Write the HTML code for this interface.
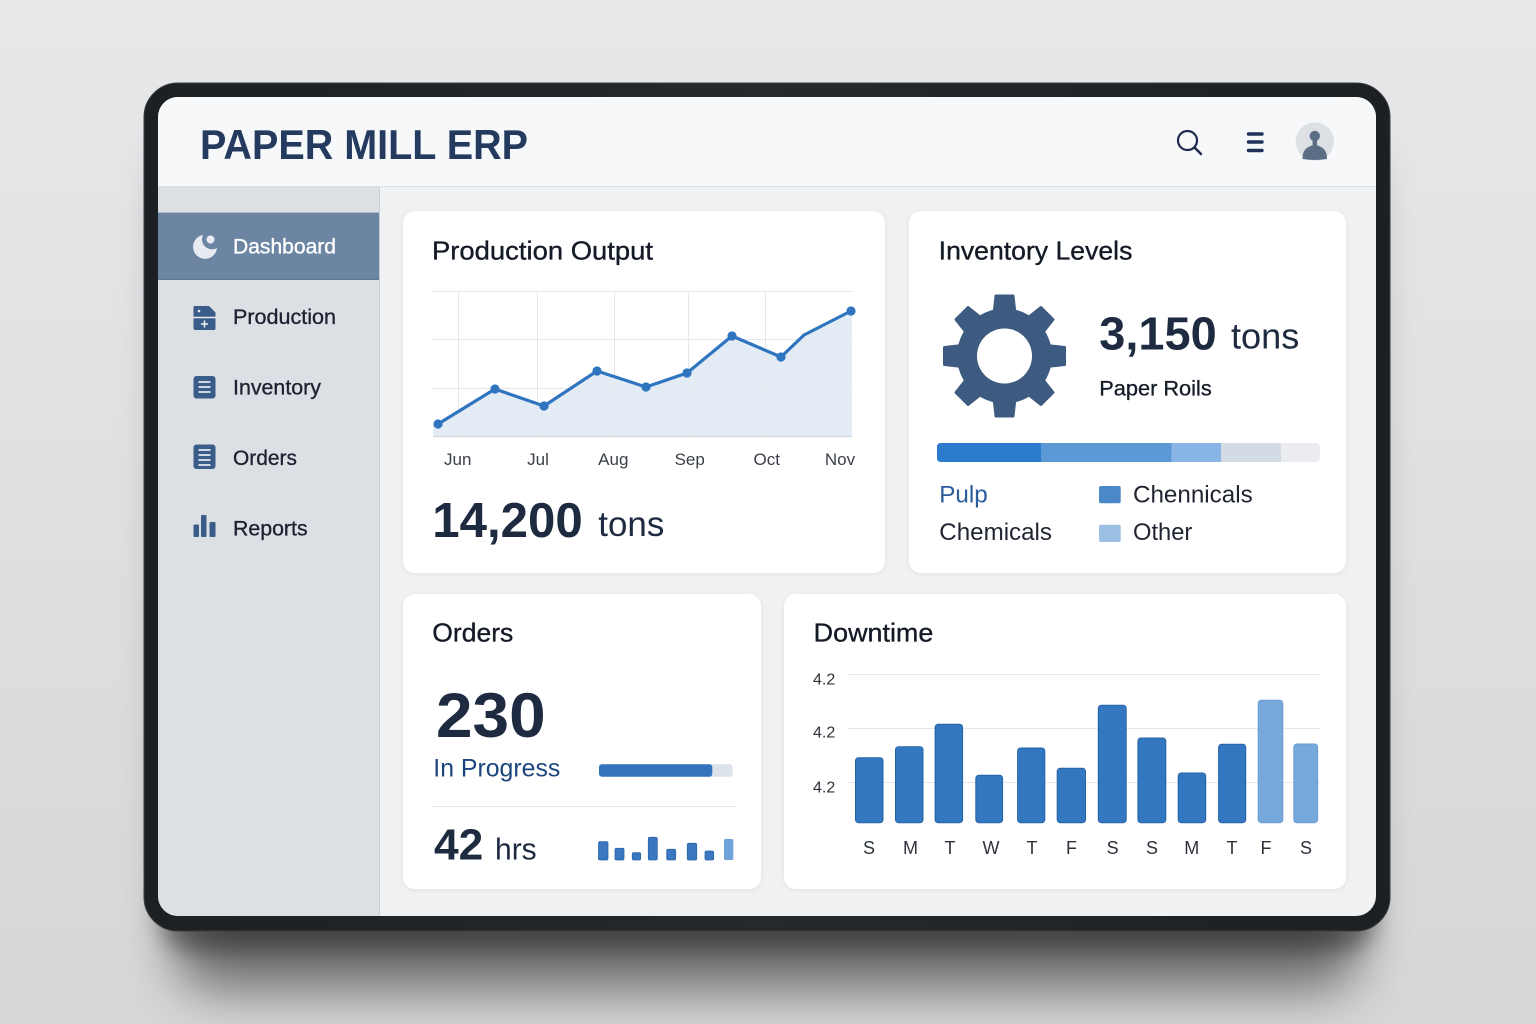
<!DOCTYPE html>
<html>
<head>
<meta charset="utf-8">
<style>
  html,body{margin:0;padding:0;width:1536px;height:1024px;overflow:hidden;background:#e3e4e6;}
  svg{display:block;}
  text{font-family:"Liberation Sans", Arial, sans-serif;}
</style>
</head>
<body>
<svg width="1536" height="1024" viewBox="0 0 1536 1024" xmlns="http://www.w3.org/2000/svg">
  <defs>
    <clipPath id="scr"><rect x="158" y="97" width="1218" height="819" rx="20"/></clipPath>
    <filter id="sh" x="-20%" y="-20%" width="140%" height="160%"><feGaussianBlur stdDeviation="26"/></filter>
    <filter id="sh2" x="-20%" y="-20%" width="140%" height="160%"><feGaussianBlur stdDeviation="10"/></filter>
    <filter id="cs" x="-5%" y="-5%" width="110%" height="115%"><feDropShadow dx="0" dy="1" stdDeviation="2" flood-color="#000" flood-opacity="0.07"/></filter>
    <linearGradient id="bg" x1="0" y1="0" x2="0" y2="1">
      <stop offset="0" stop-color="#e7e8ea"/>
      <stop offset="1" stop-color="#d7d7d7"/>
    </linearGradient>
    <linearGradient id="frm" x1="0" y1="0" x2="1" y2="0">
      <stop offset="0" stop-color="#1d2022"/>
      <stop offset="0.5" stop-color="#25292b"/>
      <stop offset="1" stop-color="#1d2022"/>
    </linearGradient>
  </defs>

  <!-- background -->
  <rect width="1536" height="1024" fill="url(#bg)"/>
  <!-- device shadow -->
  <rect x="175" y="150" width="1185" height="840" rx="40" fill="#000" opacity="0.5" filter="url(#sh)"/>
  <rect x="160" y="880" width="1215" height="70" rx="30" fill="#000" opacity="0.35" filter="url(#sh2)"/>

  <!-- device frame -->
  <rect x="144" y="83" width="1246" height="848" rx="34" fill="url(#frm)" stroke="#3a3e41" stroke-width="1"/>

  <g clip-path="url(#scr)">
    <rect x="158" y="97" width="1218" height="819" fill="#eff1f3"/>
    <rect x="158" y="97" width="1218" height="89" fill="#f7f8fa"/>
    <line x1="158" y1="186.5" x2="1376" y2="186.5" stroke="#dcdfe3" stroke-width="1"/>
    <rect x="158" y="187" width="221" height="729" fill="#dce0e4"/>
    <line x1="379.5" y1="187" x2="379.5" y2="916" stroke="#c9ced4" stroke-width="1"/>
    <rect x="158" y="212" width="221" height="68" fill="#6b85a2"/>
    <line x1="158" y1="212.5" x2="379" y2="212.5" stroke="#a9b8c9" stroke-width="1"/>
    <line x1="158" y1="279.5" x2="379" y2="279.5" stroke="#5d7692" stroke-width="1"/>
  </g>

  <!-- header title -->
  <text x="200" y="159" font-size="42" font-weight="bold" fill="#243b5f" textLength="328" lengthAdjust="spacingAndGlyphs">PAPER MILL ERP</text>

  <!-- header icons -->
  <circle cx="1187.5" cy="140.5" r="9.5" fill="none" stroke="#1d2a4a" stroke-width="2.2"/>
  <line x1="1194.5" y1="147.5" x2="1201" y2="154" stroke="#1d2a4a" stroke-width="2.4" stroke-linecap="round"/>
  <g stroke="#1f3257" stroke-width="3.4" stroke-linecap="round">
    <line x1="1248.5" y1="134" x2="1262" y2="134"/>
    <line x1="1248.5" y1="142" x2="1262" y2="142"/>
    <line x1="1248.5" y1="150.5" x2="1262" y2="150.5"/>
  </g>
  <circle cx="1314.8" cy="141.5" r="19.2" fill="#dde1e6"/>
  <circle cx="1314.8" cy="136" r="5.2" fill="#5b6e86"/>
  <rect x="1312.5" y="139" width="4.6" height="7" fill="#5b6e86"/>
  <path d="M1302.5 159 Q1302 147 1314.8 145 Q1327.5 147 1327 159 Q1314.8 161 1302.5 159 Z" fill="#5b6e86"/>

  <!-- dashboard icon -->
  <path d="M203 235 A12 12 0 1 0 217 248 A10 10 0 0 1 203 235 Z" fill="#e8ecf2"/>
  <circle cx="210.5" cy="239.5" r="4" fill="#e8ecf2"/>
  <text x="233" y="253.5" font-size="21" fill="#ffffff" stroke="#ffffff" stroke-width="0.35" textLength="103" lengthAdjust="spacingAndGlyphs">Dashboard</text>

  <!-- production icon -->
  <path d="M194.5 306 L209 306 L215.5 312.5 L215.5 328.5 Q215.5 330 214 330 L195.5 330 Q193.5 330 193.5 328 L193.5 307.5 Q193.5 306 194.5 306 Z" fill="#3a5c88"/>
  <line x1="193.5" y1="317.5" x2="215.5" y2="317.5" stroke="#e9edf2" stroke-width="1.4"/>
  <circle cx="199" cy="311" r="1.3" fill="#e9edf2"/>
  <line x1="204.5" y1="320.5" x2="204.5" y2="327.5" stroke="#e9edf2" stroke-width="1.6"/>
  <line x1="201" y1="324" x2="208" y2="324" stroke="#e9edf2" stroke-width="1.6"/>
  <text x="233" y="324" font-size="21" fill="#1b2130" stroke="#1b2130" stroke-width="0.3" textLength="103" lengthAdjust="spacingAndGlyphs">Production</text>

  <!-- inventory icon -->
  <rect x="193.5" y="376" width="22" height="22.5" rx="3" fill="#3a5c88"/>
  <g stroke="#e9edf2" stroke-width="1.7">
    <line x1="198.5" y1="382" x2="210.5" y2="382"/>
    <line x1="198.5" y1="387" x2="210.5" y2="387"/>
    <line x1="198.5" y1="392" x2="210.5" y2="392"/>
  </g>
  <text x="233" y="394.5" font-size="21" fill="#1b2130" stroke="#1b2130" stroke-width="0.3" textLength="88" lengthAdjust="spacingAndGlyphs">Inventory</text>

  <!-- orders icon -->
  <rect x="193.5" y="444.5" width="22" height="24.5" rx="3" fill="#3a5c88"/>
  <g stroke="#e9edf2" stroke-width="1.7">
    <line x1="198.5" y1="450" x2="210.5" y2="450"/>
    <line x1="198.5" y1="455" x2="210.5" y2="455"/>
    <line x1="198.5" y1="460" x2="210.5" y2="460"/>
    <line x1="198.5" y1="465" x2="210.5" y2="465"/>
  </g>
  <text x="233" y="465" font-size="21" fill="#1b2130" stroke="#1b2130" stroke-width="0.3" textLength="64" lengthAdjust="spacingAndGlyphs">Orders</text>

  <!-- reports icon -->
  <rect x="193.5" y="524.5" width="5.5" height="12.5" rx="1" fill="#3a5c88"/>
  <rect x="201" y="515" width="5.5" height="22" rx="1" fill="#3a5c88"/>
  <rect x="209.5" y="522" width="6" height="15" rx="1" fill="#3a5c88"/>
  <text x="233" y="535.5" font-size="21" fill="#1b2130" stroke="#1b2130" stroke-width="0.3" textLength="74.6" lengthAdjust="spacingAndGlyphs">Reports</text>

  <!-- cards -->
  <g filter="url(#cs)">
    <rect x="403" y="211" width="482" height="362" rx="12" fill="#ffffff"/>
    <rect x="909" y="211" width="437" height="362" rx="12" fill="#ffffff"/>
    <rect x="403" y="594" width="358" height="295" rx="12" fill="#ffffff"/>
    <rect x="784" y="594" width="562" height="295" rx="12" fill="#ffffff"/>
  </g>

  <!-- Production Output -->
  <text x="432" y="259.3" font-size="26" fill="#141a26" stroke="#141a26" stroke-width="0.35" textLength="221" lengthAdjust="spacingAndGlyphs">Production Output</text>
  <polygon points="433,424 438,424 495,389 544,406 597,371 646,387 687,373 732,336 781,357 804,335 851,311 852,311 852,436 433,436" fill="#e3ebf5"/>
  <g stroke="#e4e7eb" stroke-width="1">
    <line x1="431" y1="291.5" x2="853" y2="291.5"/>
    <line x1="431" y1="339.5" x2="853" y2="339.5"/>
    <line x1="431" y1="388.5" x2="853" y2="388.5"/>
    <line x1="458.5" y1="291" x2="458.5" y2="436"/>
    <line x1="537.5" y1="291" x2="537.5" y2="436"/>
    <line x1="614.5" y1="291" x2="614.5" y2="436"/>
    <line x1="688.5" y1="291" x2="688.5" y2="436"/>
    <line x1="765.5" y1="291" x2="765.5" y2="436"/>
  </g>
  <line x1="433" y1="436.5" x2="852" y2="436.5" stroke="#d4d9df" stroke-width="1.2"/>
  <polyline points="438,424 495,389 544,406 597,371 646,387 687,373 732,336 781,357 804,335 851,311" fill="none" stroke="#2f74bf" stroke-width="3.2" stroke-linejoin="round" stroke-linecap="round"/>
  <g fill="#2f74bf">
    <circle cx="438" cy="424" r="4.6"/>
    <circle cx="495" cy="389" r="4.6"/>
    <circle cx="544" cy="406" r="4.6"/>
    <circle cx="597" cy="371" r="4.6"/>
    <circle cx="646" cy="387" r="4.6"/>
    <circle cx="687" cy="373" r="4.6"/>
    <circle cx="732" cy="336" r="4.6"/>
    <circle cx="781" cy="357" r="4.6"/>
    <circle cx="851" cy="311" r="4.6"/>
  </g>
  <g font-size="17" fill="#3b4048" text-anchor="middle">
    <text x="457.7" y="465">Jun</text>
    <text x="538" y="465">Jul</text>
    <text x="613.3" y="465">Aug</text>
    <text x="689.7" y="465">Sep</text>
    <text x="766.7" y="465">Oct</text>
    <text x="840" y="465">Nov</text>
  </g>
  <text x="432.3" y="537" font-size="49" font-weight="bold" fill="#1d2a3f" textLength="150.4" lengthAdjust="spacingAndGlyphs">14,200</text>
  <text x="598.3" y="536" font-size="35" fill="#1d2a3f" textLength="66" lengthAdjust="spacingAndGlyphs">tons</text>

  <!-- Inventory Levels -->
  <text x="938.7" y="259.3" font-size="26" fill="#141a26" stroke="#141a26" stroke-width="0.35" textLength="193.7" lengthAdjust="spacingAndGlyphs">Inventory Levels</text>
  <g fill="#3d5a80">
    <circle cx="1004.5" cy="356" r="47.5"/>
    <path id="tooth" d="M994.5 296 Q994.5 294.5 996 294.5 L1013 294.5 Q1014.5 294.5 1014.5 296 L1017 318 L992 318 Z"/>
    <path d="M994.5 296 Q994.5 294.5 996 294.5 L1013 294.5 Q1014.5 294.5 1014.5 296 L1017 318 L992 318 Z" transform="rotate(45 1004.5 356)"/>
    <path d="M994.5 296 Q994.5 294.5 996 294.5 L1013 294.5 Q1014.5 294.5 1014.5 296 L1017 318 L992 318 Z" transform="rotate(90 1004.5 356)"/>
    <path d="M994.5 296 Q994.5 294.5 996 294.5 L1013 294.5 Q1014.5 294.5 1014.5 296 L1017 318 L992 318 Z" transform="rotate(135 1004.5 356)"/>
    <path d="M994.5 296 Q994.5 294.5 996 294.5 L1013 294.5 Q1014.5 294.5 1014.5 296 L1017 318 L992 318 Z" transform="rotate(180 1004.5 356)"/>
    <path d="M994.5 296 Q994.5 294.5 996 294.5 L1013 294.5 Q1014.5 294.5 1014.5 296 L1017 318 L992 318 Z" transform="rotate(225 1004.5 356)"/>
    <path d="M994.5 296 Q994.5 294.5 996 294.5 L1013 294.5 Q1014.5 294.5 1014.5 296 L1017 318 L992 318 Z" transform="rotate(270 1004.5 356)"/>
    <path d="M994.5 296 Q994.5 294.5 996 294.5 L1013 294.5 Q1014.5 294.5 1014.5 296 L1017 318 L992 318 Z" transform="rotate(315 1004.5 356)"/>
  </g>
  <circle cx="1004.5" cy="356" r="27.5" fill="#ffffff"/>

  <text x="1099.3" y="349.3" font-size="46" font-weight="bold" fill="#1d2a3f" textLength="117.4" lengthAdjust="spacingAndGlyphs">3,150</text>
  <text x="1231" y="348.5" font-size="36" fill="#1d2a3f" textLength="68.3" lengthAdjust="spacingAndGlyphs">tons</text>
  <text x="1099.3" y="395.7" font-size="21.5" fill="#141a26" stroke="#141a26" stroke-width="0.3" textLength="112.4" lengthAdjust="spacingAndGlyphs">Paper Roils</text>

  <rect x="1276" y="443" width="44" height="19" rx="4" fill="#eaecef"/>
  <rect x="1221" y="443" width="60" height="19" fill="#d3dbe4"/>
  <rect x="1171.7" y="443" width="49.3" height="19" fill="#88b5e6"/>
  <rect x="1041" y="443" width="130.7" height="19" fill="#5b98d6"/>
  <path d="M941 443 L1041 443 L1041 462 L941 462 Q937 462 937 458 L937 447 Q937 443 941 443 Z" fill="#2b7bcc"/>

  <text x="939.3" y="502.5" font-size="24" fill="#2a5c9c" textLength="48.4" lengthAdjust="spacingAndGlyphs">Pulp</text>
  <text x="939.3" y="540" font-size="24" fill="#1f2430" textLength="112.7" lengthAdjust="spacingAndGlyphs">Chemicals</text>
  <rect x="1099" y="486" width="21.7" height="17.3" rx="2" fill="#4a88c8"/>
  <rect x="1099" y="524.7" width="21.7" height="17.3" rx="2" fill="#9dbfe4"/>
  <text x="1133" y="502.5" font-size="24" fill="#1f2430" textLength="119.7" lengthAdjust="spacingAndGlyphs">Chennicals</text>
  <text x="1133" y="540" font-size="24" fill="#1f2430" textLength="59.3" lengthAdjust="spacingAndGlyphs">Other</text>

  <!-- Orders -->
  <text x="432.3" y="641.7" font-size="26" fill="#141a26" stroke="#141a26" stroke-width="0.35" textLength="81" lengthAdjust="spacingAndGlyphs">Orders</text>
  <text x="436" y="737" font-size="63" font-weight="bold" fill="#1d2a3f" textLength="109.7" lengthAdjust="spacingAndGlyphs">230</text>
  <text x="433.3" y="776.7" font-size="25" fill="#1c447e" textLength="127" lengthAdjust="spacingAndGlyphs">In Progress</text>
  <rect x="599" y="764.3" width="133.7" height="12.4" rx="3" fill="#dde3ea"/>
  <rect x="599" y="764.3" width="113.3" height="12.4" rx="3" fill="#3372bd"/>
  <line x1="433" y1="806.5" x2="735" y2="806.5" stroke="#e2e5e9" stroke-width="1"/>
  <text x="434" y="859.3" font-size="44" font-weight="bold" fill="#1d2a3f" textLength="49.3" lengthAdjust="spacingAndGlyphs">42</text>
  <text x="495" y="859.3" font-size="31" fill="#1d2a3f" textLength="41.7" lengthAdjust="spacingAndGlyphs">hrs</text>
  <g fill="#3a77c0" stroke="#2c64a8" stroke-width="0.8">
    <rect x="598.5" y="841.7" width="9.5" height="18.3" rx="1.5"/>
    <rect x="615" y="848.3" width="9" height="11.7" rx="1.5"/>
    <rect x="632.3" y="852.7" width="8.4" height="7.3" rx="1.5"/>
    <rect x="648.3" y="837.3" width="9" height="22.7" rx="1.5"/>
    <rect x="666.7" y="849.3" width="9" height="10.7" rx="1.5"/>
    <rect x="687.3" y="843.3" width="9.4" height="16.7" rx="1.5"/>
    <rect x="705" y="851" width="8.7" height="9" rx="1.5"/>
  </g>
  <rect x="724" y="839" width="9.3" height="21" rx="1.5" fill="#6fa3da"/>

  <!-- Downtime -->
  <text x="813.7" y="641.7" font-size="26" fill="#141a26" stroke="#141a26" stroke-width="0.35" textLength="119.6" lengthAdjust="spacingAndGlyphs">Downtime</text>
  <g stroke="#e4e7eb" stroke-width="1">
    <line x1="847" y1="674.5" x2="1320" y2="674.5"/>
    <line x1="847" y1="728.5" x2="1320" y2="728.5"/>
    <line x1="847" y1="782.5" x2="1320" y2="782.5"/>
  </g>
  <g font-size="16" fill="#2d323a">
    <text x="813" y="684.3">4.2</text>
    <text x="813" y="737.4">4.2</text>
    <text x="813" y="792.6">4.2</text>
  </g>
  <g fill="#3277c0" stroke="#2563a6" stroke-width="1">
    <rect x="855.5" y="757.7" width="27.5" height="65" rx="3"/>
    <rect x="895.5" y="746.7" width="27.5" height="76" rx="3"/>
    <rect x="935.1" y="724.3" width="27.5" height="98.4" rx="3"/>
    <rect x="975.8" y="775.3" width="26.8" height="47.4" rx="3"/>
    <rect x="1017.6" y="748" width="27.2" height="74.7" rx="3"/>
    <rect x="1057.2" y="768.3" width="28.3" height="54.4" rx="3"/>
    <rect x="1098.3" y="705.3" width="27.9" height="117.4" rx="3"/>
    <rect x="1137.9" y="738" width="27.9" height="84.7" rx="3"/>
    <rect x="1178.2" y="773" width="27.5" height="49.7" rx="3"/>
    <rect x="1218.6" y="744.3" width="27.1" height="78.4" rx="3"/>
  </g>
  <g fill="#77a8dc" stroke="#6a9dd4" stroke-width="1">
    <rect x="1258.2" y="700.3" width="24.6" height="122.4" rx="3"/>
    <rect x="1293.8" y="744" width="23.8" height="78.7" rx="3"/>
  </g>
  <g font-size="18" fill="#2d323a" text-anchor="middle">
    <text x="869" y="854">S</text>
    <text x="910.5" y="854">M</text>
    <text x="950" y="854">T</text>
    <text x="991" y="854">W</text>
    <text x="1032" y="854">T</text>
    <text x="1071.5" y="854">F</text>
    <text x="1112.6" y="854">S</text>
    <text x="1152" y="854">S</text>
    <text x="1191.8" y="854">M</text>
    <text x="1232" y="854">T</text>
    <text x="1266" y="854">F</text>
    <text x="1306" y="854">S</text>
  </g>
</svg>
</body>
</html>
